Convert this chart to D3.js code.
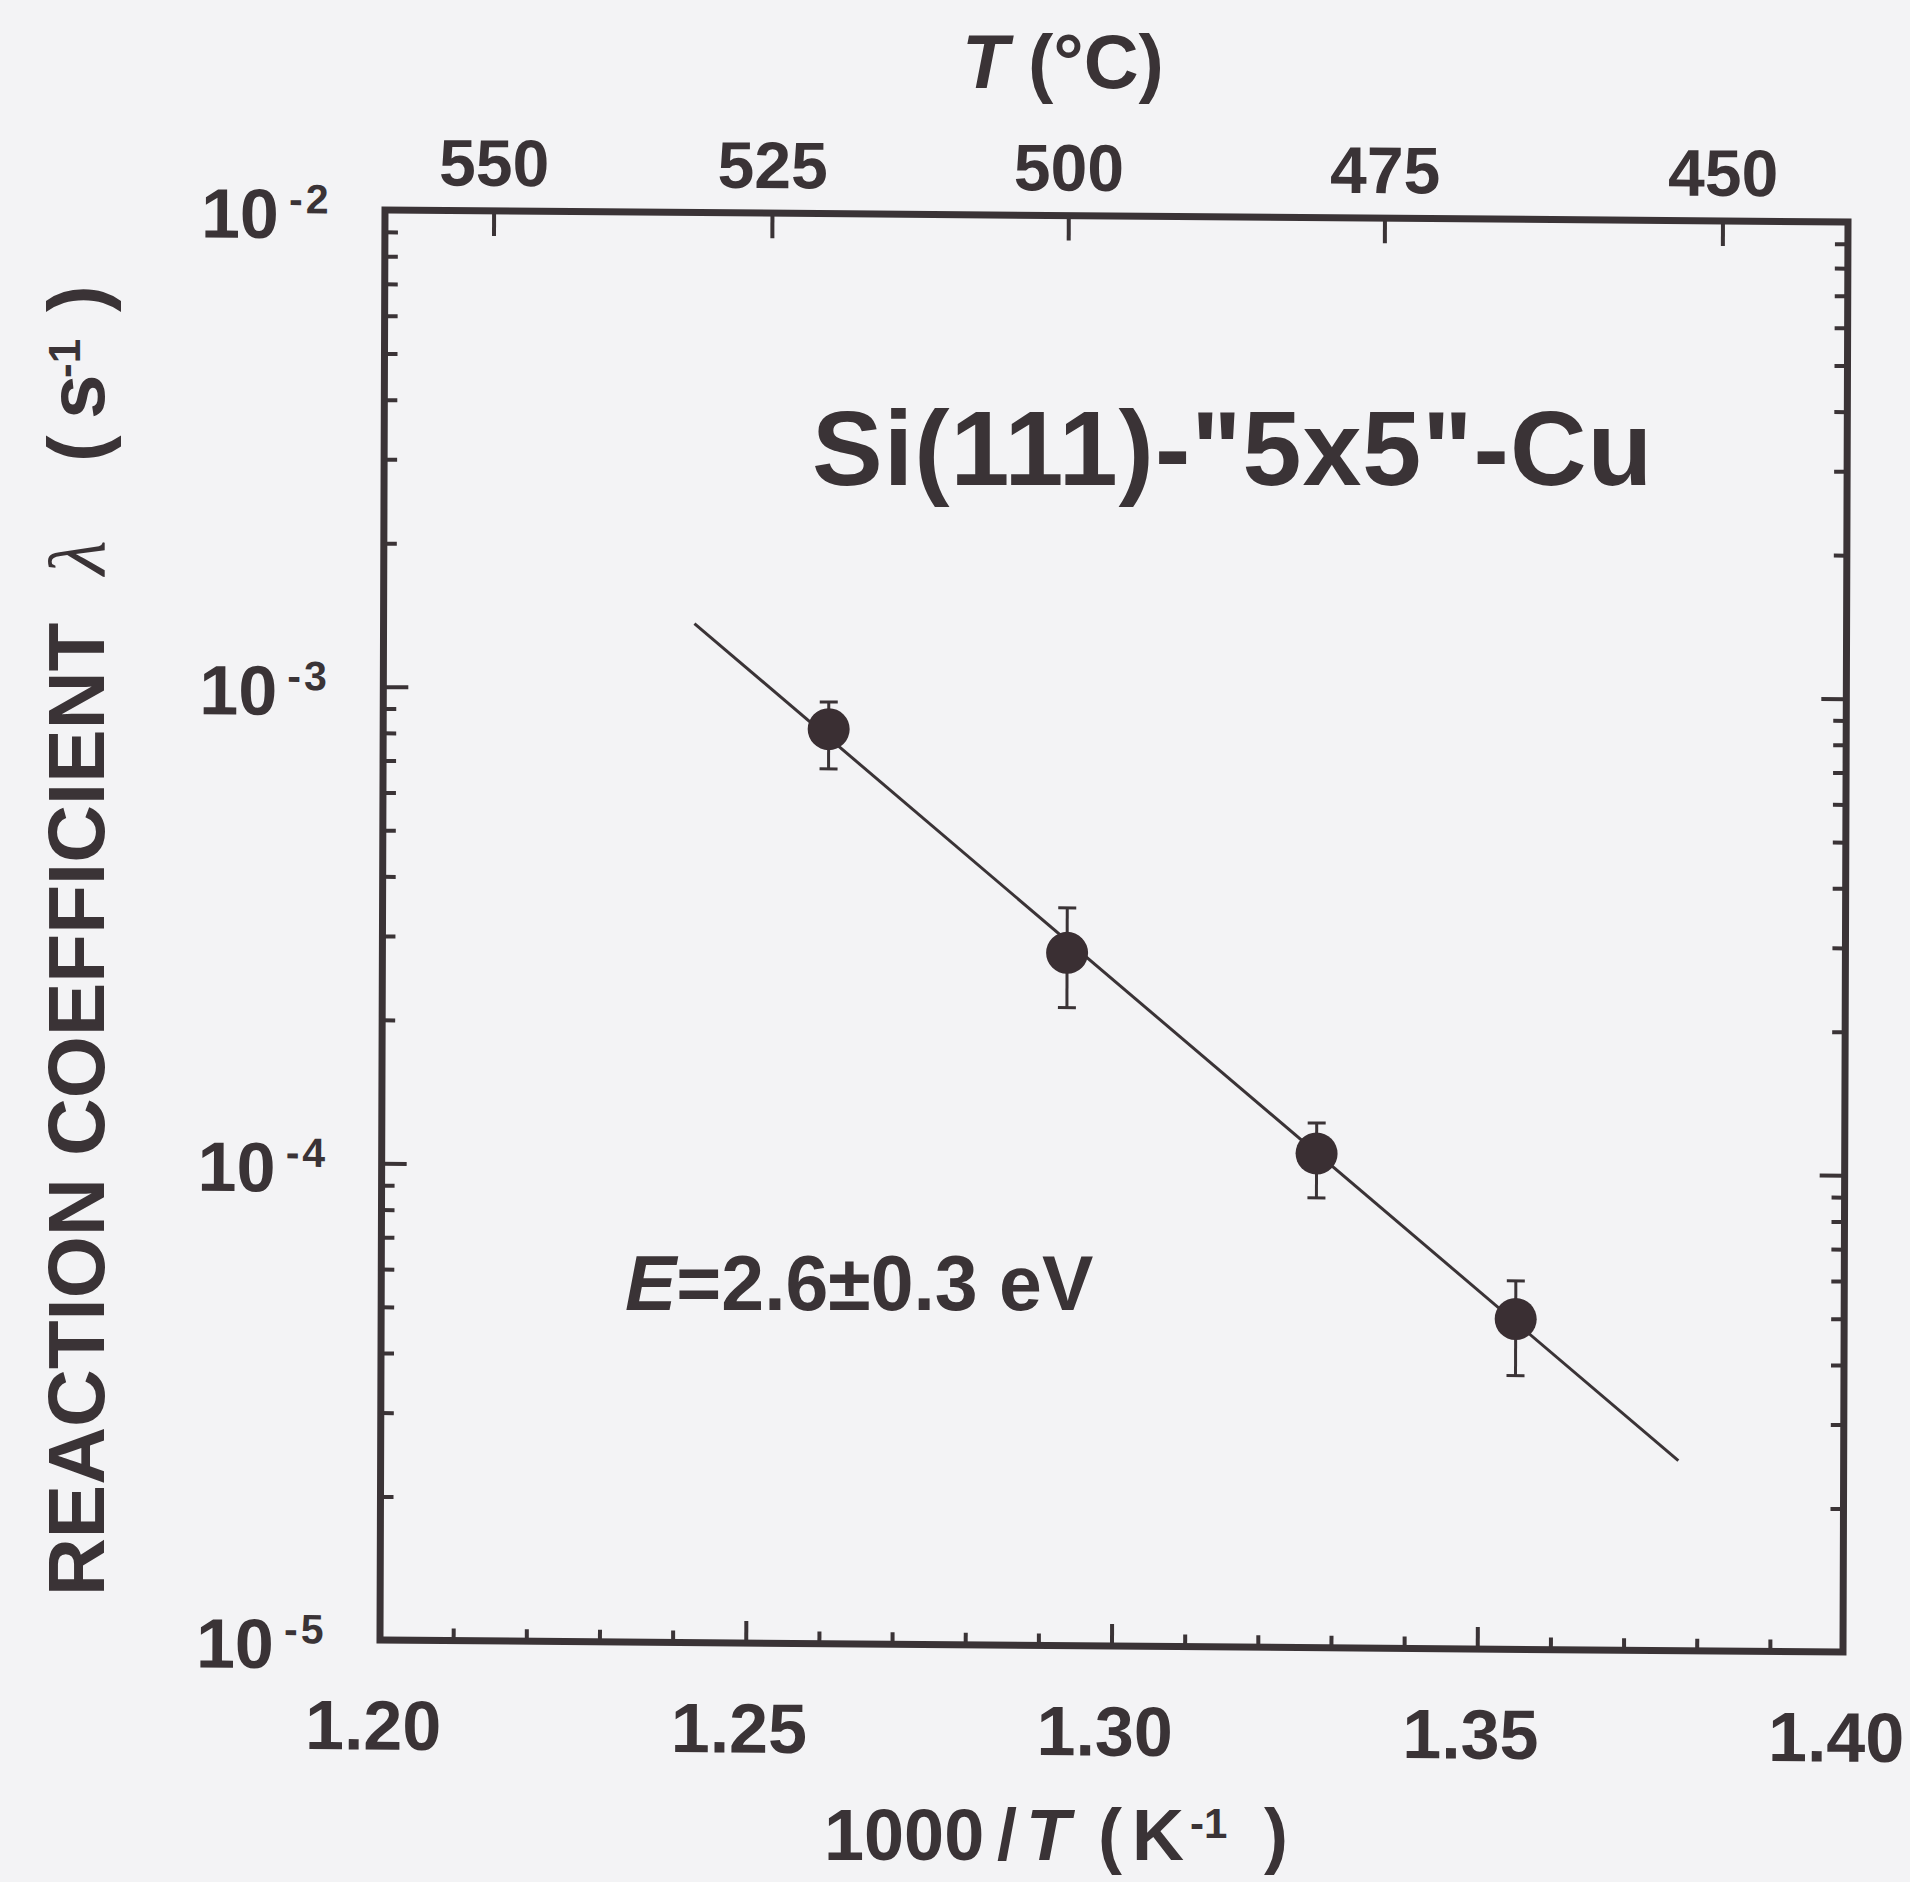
<!DOCTYPE html>
<html>
<head>
<meta charset="utf-8">
<script src="https://cdn.jsdelivr.net/npm/d3@7"></script>
<style>
body{margin:0;background:#f3f3f5;}
</style>
</head>
<body>
<svg id="chart"></svg>
<script>
// measured points (1000/T in K^-1, lambda in s^-1)
var invT   = [1.2609, 1.2936, 1.3278, 1.3551];
var lambda = [8.29e-4, 2.84e-4, 1.088e-4, 4.93e-5];
var errHi  = [9.45e-4, 3.53e-4, 1.261e-4, 5.93e-5];
var errLo  = [6.84e-4, 2.18e-4, 8.78e-5, 3.75e-5];

// Arrhenius fit line end points
var fitX = [1.2425, 1.3774];
var fitY = [1.373e-3, 2.503e-5];

// axes
var xTicks = [1.20, 1.25, 1.30, 1.35, 1.40];
var tempTicks = [550, 525, 500, 475, 450];   // deg C on the top axis
var yDecades = [1e-5, 1e-4, 1e-3, 1e-2];
var yExpLabels = ["-5", "-4", "-3", "-2"];

var screen = {width:1910, height:1882};
var plot = {w:1463, h:1430};
var ink = "#3a3336";
var font = "'Liberation Sans', Arial, Helvetica, sans-serif";

var svg = d3.select("#chart")
            .attr("width", screen.width)
            .attr("height", screen.height)
            .style("font-family", font)
            .style("font-weight", "bold");

svg.append("rect")
   .attr("width", screen.width)
   .attr("height", screen.height)
   .attr("fill", "#f3f3f5");

// the scan is slightly skewed, so the plot box gets a small matrix
var g = svg.append("g")
           .attr("transform", "matrix(1,0.0082,-0.0035,1,385,210)");

var x = d3.scaleLinear().domain([1.2, 1.4]).range([0, plot.w]);
var y = d3.scaleLog().domain([1e-5, 1e-2]).range([plot.h, 0]);

var minorX = d3.range(120, 141).filter(function(d){ return d % 5 != 0; })
               .map(function(d){ return d / 100; });
var minorY = [];
yDecades.slice(0, 3).forEach(function(dec){
  for (var k = 2; k <= 9; k++) minorY.push(k * dec);
});

var styleAxis = function(sel, size)
{
  sel.select(".domain").remove();
  sel.attr("font-family", font).attr("font-size", size).attr("font-weight", "bold");
  sel.selectAll(".tick line").attr("stroke", ink).attr("stroke-width", 4);
  sel.selectAll(".tick text").attr("fill", ink);
};

// bottom
g.append("g").attr("transform", "translate(0," + plot.h + ")")
 .call(d3.axisBottom(x).tickValues(minorX).tickSize(-12).tickFormat(""))
 .call(styleAxis, 70);
var bottom = g.append("g").attr("transform", "translate(0," + plot.h + ")")
 .call(d3.axisBottom(x).tickValues(xTicks).tickSize(-22).tickPadding(60)
         .tickFormat(d3.format(".2f")))
 .call(styleAxis, 70);
bottom.selectAll(".tick text").attr("x", -7);

// top, in deg C
var topPos = tempTicks.map(function(t){ return 1000 / (t + 273.15); });
g.append("g")
 .call(d3.axisTop(x).tickValues(topPos).tickSize(-25).tickPadding(25)
         .tickFormat(function(d, i){ return tempTicks[i]; }))
 .call(styleAxis, 66);

// left and right
g.append("g")
 .call(d3.axisLeft(y).tickValues(minorY).tickSize(-13).tickFormat(""))
 .call(styleAxis, 10);
g.append("g")
 .call(d3.axisLeft(y).tickValues(yDecades).tickSize(-25).tickFormat(""))
 .call(styleAxis, 10);
g.append("g").attr("transform", "translate(" + plot.w + ",0)")
 .call(d3.axisRight(y).tickValues(minorY).tickSize(-13).tickFormat(""))
 .call(styleAxis, 10);
g.append("g").attr("transform", "translate(" + plot.w + ",0)")
 .call(d3.axisRight(y).tickValues(yDecades).tickSize(-25).tickFormat(""))
 .call(styleAxis, 10);

// y tick labels 10^n
var ylab = g.append("g").selectAll("text")
            .data(yDecades)
            .enter()
            .append("text")
            .attr("fill", ink)
            .attr("font-size", 70);
ylab.append("tspan")
    .attr("x", -184)
    .attr("y", function(d){ return y(d) + 29; })
    .text("10");
ylab.append("tspan")
    .attr("x", -96)
    .attr("y", function(d){ return y(d) + 4; })
    .attr("font-size", 41)
    .attr("letter-spacing", 3)
    .text(function(d, i){ return yExpLabels[i]; });

// frame
g.append("rect")
 .attr("width", plot.w)
 .attr("height", plot.h)
 .attr("fill", "none")
 .attr("stroke", ink)
 .attr("stroke-width", 7);

// fit line
var line = d3.line()
             .x(function(d){ return x(d[0]); })
             .y(function(d){ return y(d[1]); });
g.append("path")
 .datum(d3.zip(fitX, fitY))
 .attr("d", line)
 .attr("fill", "none")
 .attr("stroke", ink)
 .attr("stroke-width", 3);

// error bars
var pts = d3.range(invT.length);
var bars = g.append("g").attr("stroke", ink).attr("stroke-width", 3);
bars.selectAll(".v").data(pts).enter().append("line")
    .attr("x1", function(i){ return x(invT[i]); })
    .attr("x2", function(i){ return x(invT[i]); })
    .attr("y1", function(i){ return y(errHi[i]); })
    .attr("y2", function(i){ return y(errLo[i]); });
[errHi, errLo].forEach(function(arr){
  bars.append("g").selectAll("line").data(pts).enter().append("line")
      .attr("x1", function(i){ return x(invT[i]) - 9; })
      .attr("x2", function(i){ return x(invT[i]) + 9; })
      .attr("y1", function(i){ return y(arr[i]); })
      .attr("y2", function(i){ return y(arr[i]); });
});

// points
g.append("g").selectAll("circle")
 .data(pts)
 .enter()
 .append("circle")
 .attr("cx", function(i){ return x(invT[i]); })
 .attr("cy", function(i){ return y(lambda[i]); })
 .attr("r", 21)
 .attr("fill", "#3a2f33");

// annotations
svg.append("text")
   .attr("x", 812).attr("y", 485)
   .attr("font-size", 106)
   .attr("letter-spacing", 1)
   .attr("fill", ink)
   .text('Si(111)-"5x5"-Cu');

var eLab = svg.append("text")
   .attr("x", 625).attr("y", 1310)
   .attr("font-size", 77)
   .attr("fill", ink);
eLab.append("tspan").attr("font-style", "italic").text("E");
eLab.append("tspan").text("=2.6\u00b10.3 eV");

// top title
var tTitle = svg.append("text")
   .attr("y", 88)
   .attr("font-size", 76)
   .attr("fill", ink);
tTitle.append("tspan").attr("x", 962).attr("font-style", "italic").text("T");
tTitle.append("tspan").attr("x", 1028).text("(\u00b0C)");

// bottom title
var xTitle = svg.append("text")
   .attr("y", 1860)
   .attr("font-size", 72)
   .attr("fill", ink);
xTitle.append("tspan").attr("x", 824).text("1000");
xTitle.append("tspan").attr("x", 997).text("/");
xTitle.append("tspan").attr("x", 1026).attr("font-style", "italic").text("T");
xTitle.append("tspan").attr("x", 1098).text("(");
xTitle.append("tspan").attr("x", 1132).text("K");
xTitle.append("tspan").attr("x", 1190).attr("y", 1838).attr("font-size", 42).text("-1");
xTitle.append("tspan").attr("x", 1264).attr("y", 1860).text(")");

// left title, rotated
var yTitle = svg.append("text")
   .attr("transform", "rotate(-90)")
   .attr("y", 104)
   .attr("font-size", 80)
   .attr("fill", ink);
yTitle.append("tspan").attr("x", -1596).text("REACTION COEFFICIENT");
yTitle.append("tspan").attr("x", -575)
      .attr("font-family", "'Liberation Serif', 'DejaVu Serif', serif")
      .attr("font-weight", "normal").attr("font-style", "italic")
      .text("\u03bb");
yTitle.append("tspan").attr("x", -462).text("(");
yTitle.append("tspan").attr("x", -419).text("s");
yTitle.append("tspan").attr("x", -378).attr("y", 80).attr("font-size", 44).text("-1");
yTitle.append("tspan").attr("x", -312).attr("y", 104).text(")");
</script>
</body>
</html>
